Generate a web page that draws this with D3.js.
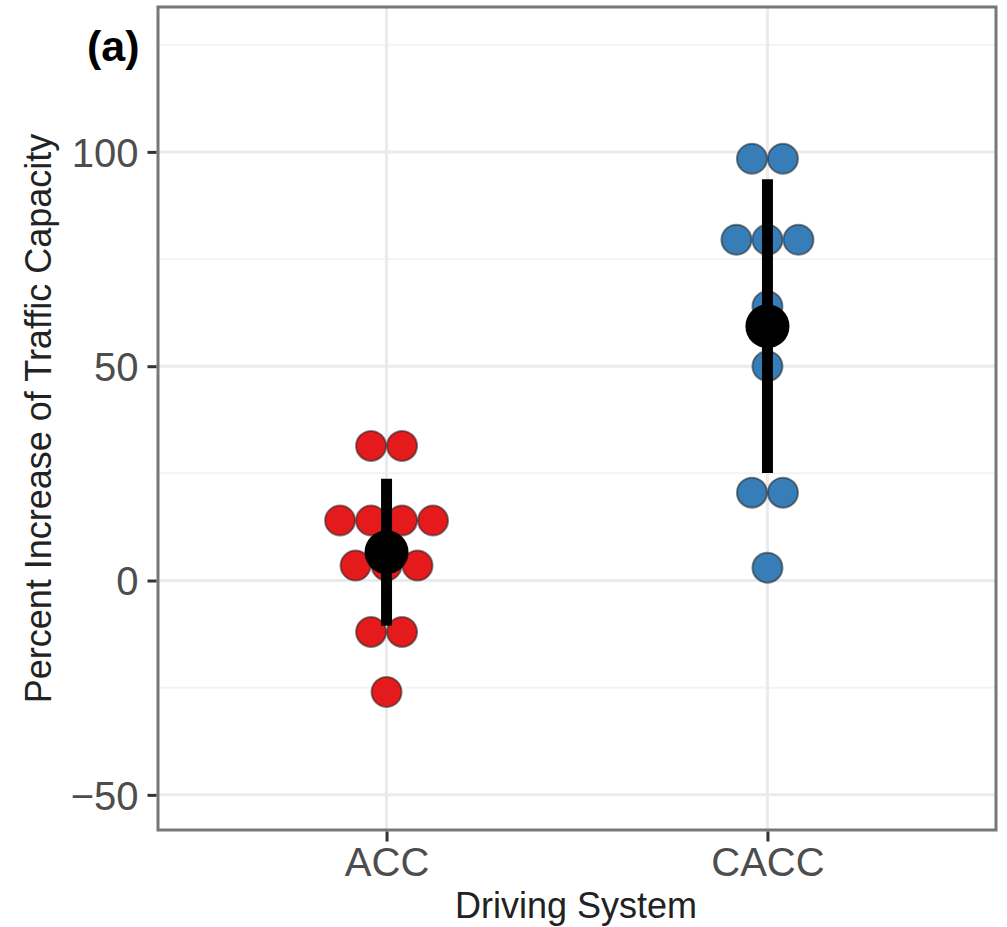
<!DOCTYPE html>
<html>
<head>
<meta charset="utf-8">
<script src="https://cdn.jsdelivr.net/npm/d3@7"></script>
<style>
  body { margin: 0; background: #fff; }
  text { font-family: "Liberation Sans", Arial, sans-serif; }
</style>
</head>
<body>
<svg id="chart" width="1007" height="927"></svg>
<script>
// data
var categories = ["ACC", "CACC"];
var accValues = [31.4, 31.4, 14, 14, 14, 14, 3.5, 3.5, 3.5, -12, -12, -26];
var caccValues = [98.4, 98.4, 79.5, 79.5, 79.5, 64, 50, 20.5, 20.5, 3];
var seriesColors = ["#e41a1c", "#377eb8"];
var majorTicks = [-50, 0, 50, 100];
var minorTicks = [-25, 25, 75, 125];

var svg = d3.select("#chart");

// panel box
var panel = { left: 158, top: 7, right: 996, bottom: 830 };

var x = d3.scalePoint()
    .domain(categories)
    .range([panel.left, panel.right])
    .padding(0.6);

var y = d3.scaleLinear()
    .domain([-58.2, 133.8])
    .range([panel.bottom, panel.top]);

var groups = [
    { name: "ACC", values: accValues, color: seriesColors[0] },
    { name: "CACC", values: caccValues, color: seriesColors[1] }
];

// grid lines
var grid = svg.append("g");
grid.selectAll("line.minor")
    .data(minorTicks.filter(function(d) { return y(d) > panel.top; }))
    .enter().append("line")
    .attr("class", "minor")
    .attr("x1", panel.left).attr("x2", panel.right)
    .attr("y1", function(d) { return y(d); })
    .attr("y2", function(d) { return y(d); })
    .attr("stroke", "#f3f3f3")
    .attr("stroke-width", 2);

grid.selectAll("line.majorY")
    .data(majorTicks)
    .enter().append("line")
    .attr("class", "majorY")
    .attr("x1", panel.left).attr("x2", panel.right)
    .attr("y1", function(d) { return y(d); })
    .attr("y2", function(d) { return y(d); })
    .attr("stroke", "#ebebeb")
    .attr("stroke-width", 3);

grid.selectAll("line.majorX")
    .data(categories)
    .enter().append("line")
    .attr("class", "majorX")
    .attr("y1", panel.top).attr("y2", panel.bottom)
    .attr("x1", function(d) { return x(d); })
    .attr("x2", function(d) { return x(d); })
    .attr("stroke", "#ebebeb")
    .attr("stroke-width", 3);

// dot plot: stack equal values side by side, centred on the category
var dotR = 15;
var dotStep = 31;

groups.forEach(function(g) {
    var bins = d3.groups(g.values, function(v) { return v; });
    var dots = [];
    bins.forEach(function(b) {
        var n = b[1].length;
        b[1].forEach(function(v, i) {
            dots.push({ value: v, offset: (i - (n - 1) / 2) * dotStep });
        });
    });

    svg.append("g").selectAll("circle")
        .data(dots)
        .enter().append("circle")
        .attr("cx", function(d) { return x(g.name) + d.offset; })
        .attr("cy", function(d) { return y(d.value); })
        .attr("r", dotR)
        .attr("fill", g.color)
        .attr("stroke", "#222")
        .attr("stroke-opacity", 0.55)
        .attr("stroke-width", 2);
});

// mean +/- sd
groups.forEach(function(g) {
    var m = d3.mean(g.values);
    var sd = d3.deviation(g.values);
    var cx = x(g.name);
    svg.append("line")
        .attr("x1", cx).attr("x2", cx)
        .attr("y1", y(m + sd)).attr("y2", y(m - sd))
        .attr("stroke", "#000")
        .attr("stroke-width", 11);
    svg.append("circle")
        .attr("cx", cx)
        .attr("cy", y(m))
        .attr("r", 22)
        .attr("fill", "#000");
});

// panel border
svg.append("rect")
    .attr("x", panel.left).attr("y", panel.top)
    .attr("width", panel.right - panel.left)
    .attr("height", panel.bottom - panel.top)
    .attr("fill", "none")
    .attr("stroke", "#777")
    .attr("stroke-width", 3);

// axes
var yAxis = svg.append("g")
    .attr("transform", "translate(" + (panel.left - 1.5) + ",0)")
    .call(d3.axisLeft(y).tickValues(majorTicks).tickSize(9).tickPadding(9)
        .tickFormat(function(d) { return d < 0 ? "\u2212" + Math.abs(d) : d; }));
yAxis.select(".domain").remove();
yAxis.selectAll(".tick line").attr("stroke", "#333").attr("stroke-width", 3);
yAxis.selectAll(".tick text")
    .attr("fill", "#4d4d4d")
    .style("font-size", "40px")
    .attr("dy", "0.36em");

var xAxis = svg.append("g")
    .attr("transform", "translate(0," + (panel.bottom + 1.5) + ")")
    .call(d3.axisBottom(x).tickSize(10).tickPadding(6));
xAxis.select(".domain").remove();
xAxis.selectAll(".tick line").attr("stroke", "#333").attr("stroke-width", 3);
xAxis.selectAll(".tick text")
    .attr("fill", "#4d4d4d")
    .style("font-size", "40px");

// titles
svg.append("text")
    .attr("x", (panel.left + panel.right) / 2 - 1)
    .attr("y", 918)
    .attr("text-anchor", "middle")
    .attr("fill", "#222")
    .style("font-size", "36px")
    .text("Driving System");

svg.append("text")
    .attr("transform", "translate(51," + ((panel.top + panel.bottom) / 2) + ") rotate(-90)")
    .attr("text-anchor", "middle")
    .attr("fill", "#222")
    .style("font-size", "36px")
    .text("Percent Increase of Traffic Capacity");

svg.append("text")
    .attr("x", 87)
    .attr("y", 61)
    .attr("fill", "#000")
    .style("font-size", "43px")
    .style("font-weight", "bold")
    .text("(a)");
</script>
</body>
</html>
